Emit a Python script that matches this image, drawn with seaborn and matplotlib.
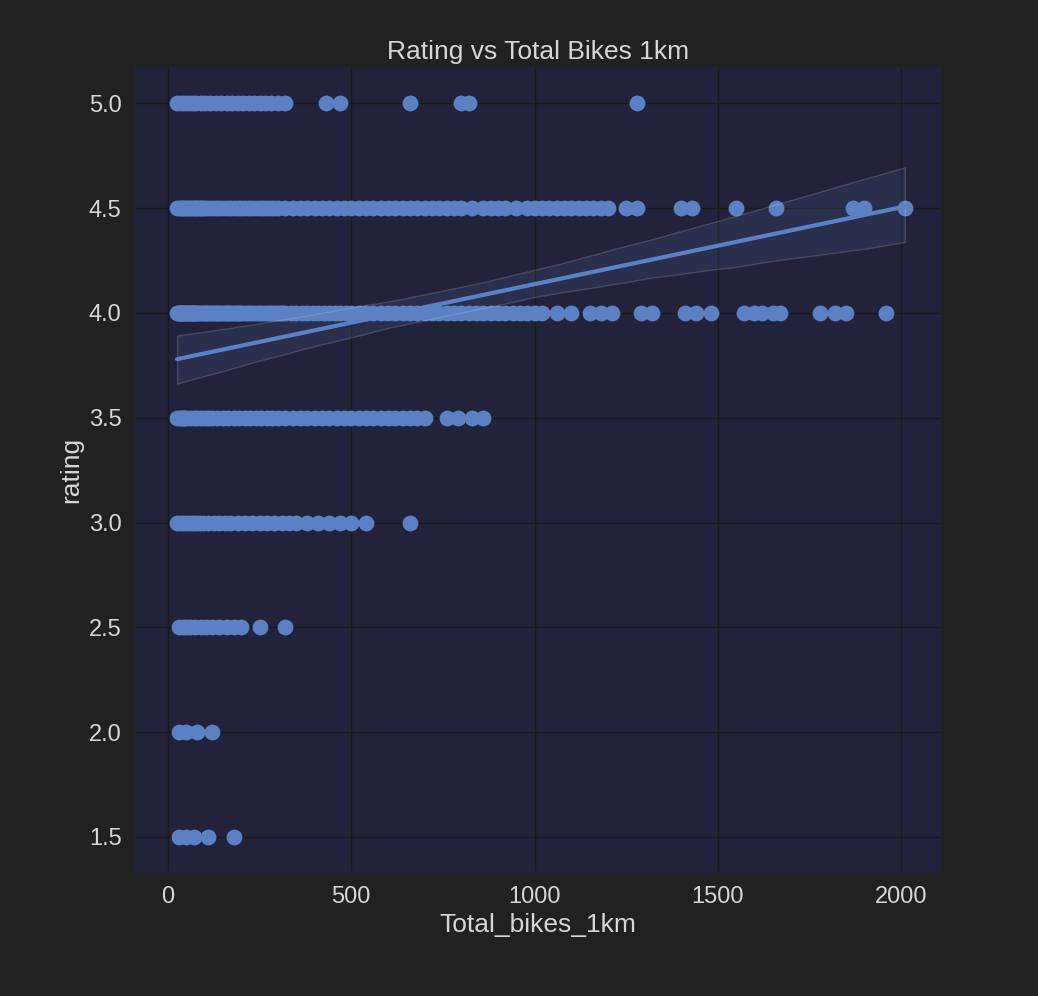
import matplotlib
matplotlib.use("Agg")
import matplotlib.pyplot as plt
import seaborn as sns
import pandas as pd

bikes_50 = [25,35,45,55,65,75,90,100,115,130,145,160,175,190,205,220,235,250,265,280,300,320,430,470,660,800,820,1280]
bikes_45 = [25,30,35,40,45,50,55,60,65,70,75,80,85,90,95,100,110,120,130,140,150,160,170,180,190,200,210,220,230,240,250,260,270,280,290,300,320,340,360,380,400,420,440,460,480,500,520,540,560,580,600,620,640,660,680,700,720,740,760,780,800,830,860,880,900,920,950,980,1000,1020,1040,1060,1080,1100,1120,1140,1160,1180,1200,1250,1280,1400,1430,1550,1660,1870,1900,2010]
bikes_40 = [25,28,30,32,35,38,40,42,45,48,50,52,55,58,60,62,65,68,70,72,75,78,80,85,90,95,100,105,110,115,120,125,130,135,140,145,150,155,160,165,170,175,180,185,190,195,200,207,215,222,230,237,245,252,260,267,275,282,290,297,305,312,320,335,350,365,380,395,410,425,440,455,470,485,500,520,540,560,580,600,620,640,660,680,700,720,740,760,780,800,820,840,860,880,900,920,940,960,980,1000,1020,1060,1100,1150,1180,1210,1290,1320,1410,1440,1480,1570,1600,1620,1650,1670,1780,1820,1850,1960]
bikes_35 = [25,30,35,40,45,50,60,70,80,90,100,110,120,135,150,165,180,195,210,225,240,255,270,285,300,320,340,360,380,400,420,440,460,480,500,520,540,560,580,600,620,640,660,680,700,760,790,830,860]
bikes_30 = [25,35,45,55,65,75,85,95,110,125,140,155,170,190,210,230,250,270,290,310,330,350,380,410,440,470,500,540,660]
bikes_25 = [30,40,50,60,75,90,105,120,140,160,180,200,250,320]
bikes_20 = [30,50,80,120]
bikes_15 = [30,50,70,110,180]

ratings = [5.0,4.5,4.0,3.5,3.0,2.5,2.0,1.5]
groups = [bikes_50,bikes_45,bikes_40,bikes_35,bikes_30,bikes_25,bikes_20,bikes_15]
xs, ys = [], []
for r, g in zip(ratings, groups):
    xs += g; ys += [r]*len(g)
df = pd.DataFrame({"Total_bikes_1km": xs, "rating": ys})

sns.set_theme(style="darkgrid")
fig_bg = "#212121"; ax_bg = "#22223a"; txt = "#d6d6d6"
plt.rcParams.update({"figure.facecolor": fig_bg, "axes.facecolor": ax_bg,
                     "grid.color": "#1a1a1a", "text.color": txt,
                     "axes.labelcolor": txt, "xtick.color": txt, "ytick.color": txt,
                     "axes.edgecolor": ax_bg})
plt.rcParams["font.family"] = ["Liberation Sans", "DejaVu Sans"]
fig = plt.figure(figsize=(10.38, 9.96), dpi=100)
ax = fig.add_axes([0.13, 0.124, 0.777, 0.808])
sns.regplot(data=df, x="Total_bikes_1km", y="rating", ax=ax, color="#5b80c4",
            scatter_kws={"s": 130, "alpha": 1, "linewidths": 0},
            line_kws={"linewidth": 3})
ax.set_xlim(-90, 2110)
ax.set_ylim(1.33, 5.17)
ax.set_xticks([0,500,1000,1500,2000])
ax.set_yticks([1.5,2.0,2.5,3.0,3.5,4.0,4.5,5.0])
ax.tick_params(labelsize=17)
ax.set_xlabel("Total_bikes_1km", fontsize=19)
ax.set_ylabel("rating", fontsize=19)
ax.set_title("Rating vs Total Bikes 1km", fontsize=19, color=txt)
fig.savefig("out.png", facecolor=fig_bg)
